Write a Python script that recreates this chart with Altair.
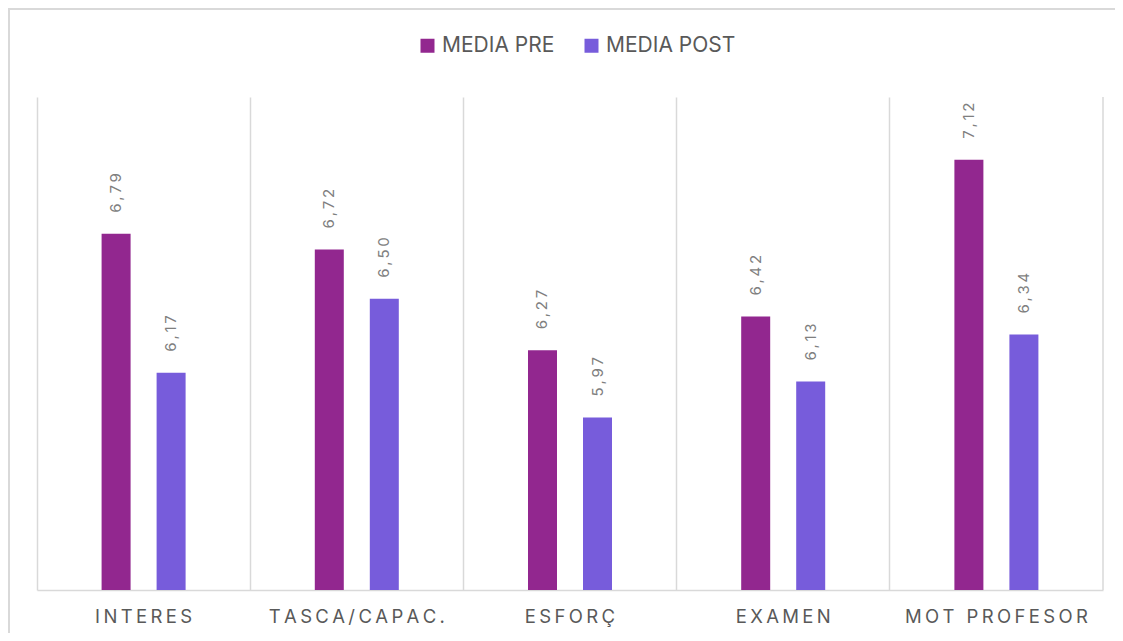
import altair as alt
import pandas as pd

categories = ["INTERES", "TASCA/CAPAC.", "ESFORÇ", "EXAMEN", "MOT PROFESOR"]
series = ["MEDIA PRE", "MEDIA POST"]
media_pre = [6.79, 6.72, 6.27, 6.42, 7.12]
media_post = [6.17, 6.50, 5.97, 6.13, 6.34]
colors = ["#92278f", "#775cdb"]

rows = []
for c, a, b in zip(categories, media_pre, media_post):
    rows.append({"cat": c, "serie": series[0], "value": a})
    rows.append({"cat": c, "serie": series[1], "value": b})
df = pd.DataFrame(rows)

W, H = 1066, 493
GRID = "#d9d9d9"
FONT = "Inter"

base = alt.Chart(df).encode(
    x=alt.X(
        "cat:N",
        sort=categories,
        scale=alt.Scale(paddingInner=0, paddingOuter=0),
        axis=alt.Axis(
            title=None,
            grid=True,
            gridColor=GRID,
            gridWidth=1.5,
            bandPosition=0,
            domain=True,
            domainColor=GRID,
            domainWidth=1.5,
            ticks=False,
            labelAngle=0,
            labelFont=FONT,
            labelFontSize=18.5,
            labelColor="#595959",
            labelPadding=17,
            labelLimit=400,
            labelOverlap=False,
            labelExpr="join(split(datum.label, ''), '\u2009')",
        ),
    ),
    xOffset=alt.XOffset("serie:N", sort=series,
                        scale=alt.Scale(paddingInner=0, paddingOuter=0.938)),
)

bars = base.mark_bar(width=29).encode(
    y=alt.Y("value:Q", scale=alt.Scale(domain=[5.2, 7.4]), axis=None),
    y2=alt.datum(5.2),
    color=alt.Color(
        "serie:N",
        sort=series,
        scale=alt.Scale(domain=series, range=colors),
        legend=alt.Legend(
            orient="none",
            legendX=380,
            legendY=-62,
            direction="horizontal",
            title=None,
            symbolType="square",
            symbolSize=196,
            symbolStrokeWidth=0,
            labelFont=FONT,
            labelFontSize=21,
            labelColor="#595959",
            labelOffset=4,
            columnPadding=26,
            labelLimit=400,
        ),
    ),
)

labels = base.transform_calculate(
    lab="join(split(replace(format(datum.value, '.2f'), '.', ','), ''), '\u2009')"
).mark_text(
    angle=270, align="left", baseline="middle", dx=21,
    font=FONT, fontSize=15, color="#7f7f7f"
).encode(
    y=alt.Y("value:Q", scale=alt.Scale(domain=[5.2, 7.4]), axis=None),
    text="lab:N",
)

deco = alt.Data(values=[{"k": 1}])
border = alt.Chart(deco).mark_rect(
    fill=None, fillOpacity=0, stroke=GRID, strokeWidth=2
).encode(
    x=alt.value(-28), x2=alt.value(W + 60), y=alt.value(-88), y2=alt.value(H + 80)
)
right_rule = alt.Chart(deco).mark_rule(color=GRID, strokeWidth=1.5).encode(
    x=alt.value(W), y=alt.value(0), y2=alt.value(H)
)

chart = alt.layer(border, bars, labels, right_rule).properties(
    width=W,
    height=H,
    autosize=alt.AutoSizeParams(type="none"),
    padding={"left": 29, "top": 89, "right": 12, "bottom": 43},
).configure_view(stroke=None)

chart.save("out.html", embed_options={"renderer": "svg", "actions": False})
